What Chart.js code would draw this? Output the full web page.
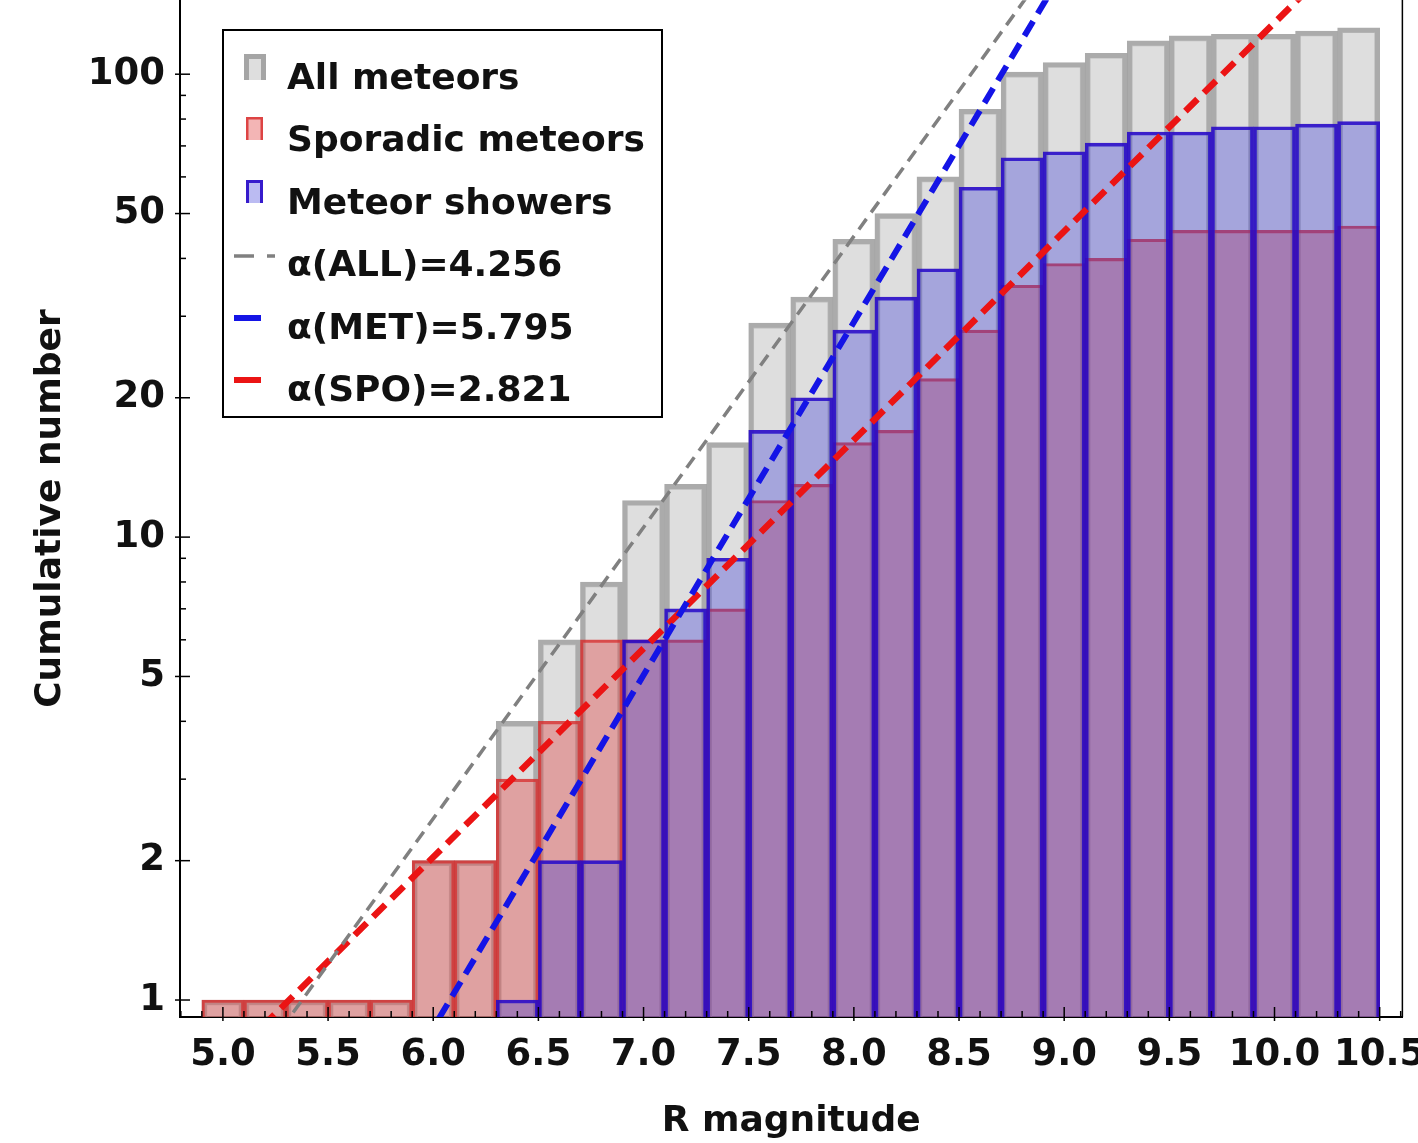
<!DOCTYPE html>
<html>
<head>
<meta charset="utf-8">
<script src="https://cdn.jsdelivr.net/npm/chart.js@4.4.0/dist/chart.umd.min.js"></script>
<style>
  html, body { margin: 0; padding: 0; background: #fff; overflow: hidden; }
  #wrap { position: absolute; left: 0; top: -37px; width: 1442px; height: 1180px; }
</style>
</head>
<body>
<div id="wrap"><canvas id="cumChart"></canvas></div>
<script>
// bin centres (R magnitude, 0.2 mag bins)
const magBins = [5.0, 5.2, 5.4, 5.6, 5.8, 6.0, 6.2, 6.4, 6.6, 6.8, 7.0, 7.2, 7.4, 7.6,
                 7.8, 8.0, 8.2, 8.4, 8.6, 8.8, 9.0, 9.2, 9.4, 9.6, 9.8, 10.0, 10.2, 10.4];
// cumulative counts
const allMeteors = [1, 1, 1, 1, 1, 2, 2, 4, 6, 8, 12, 13, 16, 29,
                    33, 44, 50, 60, 84, 101, 106, 111, 118, 121, 122, 122, 124, 126];
const sporadicMeteors = [1, 1, 1, 1, 1, 2, 2, 3, 4, 6, 6, 6, 7, 12,
                         13, 16, 17, 22, 28, 35, 39, 40, 44, 46, 46, 46, 46, 47];
const showerMeteors = [0, 0, 0, 0, 0, 0, 0, 1, 2, 2, 6, 7, 9, 17,
                       20, 28, 33, 38, 57, 66, 68, 71, 75, 75, 77, 77, 78, 79];

// fitted power laws, end points
const fitAllX = [5.1, 9.0];
const fitAllY = [0.67, 190];
const fitMetX = [5.9, 9.1];
const fitMetY = [0.73, 201];
const fitSpoX = [5.1, 10.5];
const fitSpoY = [0.80, 217];

const xTickValues = [5.0, 5.5, 6.0, 6.5, 7.0, 7.5, 8.0, 8.5, 9.0, 9.5, 10.0, 10.5];
const yTickValues = [1, 2, 5, 10, 20, 50, 100];
const legendLabels = ['All meteors', 'Sporadic meteors', 'Meteor showers',
                      'α(ALL)=4.256', 'α(MET)=5.795', 'α(SPO)=2.821'];

const FONT = 'DejaVu Sans';
Chart.defaults.font.family = FONT;
Chart.defaults.font.weight = 'bold';
Chart.defaults.color = '#111';

function toPoints(xs, ys) {
  return xs.map((x, i) => ({ x: x, y: ys[i] > 0 ? ys[i] : null }));
}

const GRAY_FILL = 'rgba(200,200,200,0.6)', GRAY_EDGE = 'rgba(150,150,150,0.8)';
const RED_FILL = 'rgba(225,70,70,0.4)', RED_EDGE = 'rgba(215,40,40,0.8)';
const BLUE_FILL = 'rgba(50,50,215,0.33)', BLUE_EDGE = 'rgba(40,10,200,0.9)';

// canvas is shifted up by 37px so the plot runs to the top edge of the page
const SHIFT = 37;

// inward ticks, right spine and the boxed legend
const framePlugin = {
  id: 'frame',
  afterDraw(chart) {
    const { ctx, chartArea: a, scales: { x, y } } = chart;
    ctx.save();
    ctx.strokeStyle = '#000';
    ctx.lineWidth = 1.5;
    ctx.beginPath();
    ctx.moveTo(a.right, 0);
    ctx.lineTo(a.right, a.bottom);
    ctx.stroke();
    ctx.lineWidth = 2;
    ctx.beginPath();
    ctx.moveTo(a.left, 0);
    ctx.lineTo(a.left, a.top + 2);
    ctx.stroke();

    ctx.lineWidth = 1.5;
    for (let i = 48; i <= 106; i++) {
      const px = x.getPixelForValue(i / 10);
      const major = i % 5 === 0;
      ctx.beginPath();
      ctx.moveTo(px, a.bottom + (major ? 4 : 0));
      ctx.lineTo(px, a.bottom - (major ? 10 : 6));
      ctx.stroke();
    }
    for (const d of [1, 10, 100]) {
      for (let k = 1; k <= 9; k++) {
        const v = k * d;
        if (v < y.min || v > y.max) continue;
        const py = y.getPixelForValue(v);
        const major = k === 1 || k === 2 || k === 5;
        ctx.beginPath();
        ctx.moveTo(a.left - (major ? 5 : 0), py);
        ctx.lineTo(a.left + (major ? 10 : 6), py);
        ctx.stroke();
      }
    }

    // legend (page coordinates + SHIFT)
    const bx = 223, by = 30 + SHIFT, bw = 439, bh = 387;
    ctx.fillStyle = '#fff';
    ctx.fillRect(bx, by, bw, bh);
    ctx.lineWidth = 2;
    ctx.strokeStyle = '#000';
    ctx.strokeRect(bx, by, bw, bh);
    const rows = [80, 142, 205, 267, 330, 392];
    ctx.font = 'bold 36px "' + FONT + '"';
    ctx.fillStyle = '#111';
    ctx.textBaseline = 'middle';
    ctx.textAlign = 'left';
    legendLabels.forEach((t, i) => ctx.fillText(t, 287, rows[i] + SHIFT));

    function barIcon(x0, y0, w, h, fill, edge, lw) {
      y0 += SHIFT;
      ctx.fillStyle = '#fff';
      ctx.fillRect(x0, y0, w, h);
      ctx.fillStyle = fill;
      ctx.fillRect(x0, y0, w, h);
      ctx.strokeStyle = edge;
      ctx.lineWidth = lw;
      ctx.beginPath();
      ctx.moveTo(x0 + lw / 2, y0 + h);
      ctx.lineTo(x0 + lw / 2, y0 + lw / 2);
      ctx.lineTo(x0 + w - lw / 2, y0 + lw / 2);
      ctx.lineTo(x0 + w - lw / 2, y0 + h);
      ctx.stroke();
    }
    barIcon(244, 54, 22, 26, GRAY_FILL, GRAY_EDGE, 5);
    barIcon(246, 117, 17, 23, RED_FILL, RED_EDGE, 2.5);
    barIcon(246, 180, 17, 23, BLUE_FILL, BLUE_EDGE, 3);

    ctx.lineCap = 'butt';
    ctx.strokeStyle = 'rgb(128,128,128)';
    ctx.lineWidth = 3.5;
    ctx.setLineDash([20, 13]);
    ctx.beginPath(); ctx.moveTo(234, 256 + SHIFT); ctx.lineTo(275, 256 + SHIFT); ctx.stroke();
    ctx.setLineDash([]);
    ctx.lineWidth = 6;
    ctx.strokeStyle = 'rgb(20,20,230)';
    ctx.beginPath(); ctx.moveTo(234, 318 + SHIFT); ctx.lineTo(261, 318 + SHIFT); ctx.stroke();
    ctx.strokeStyle = 'rgb(235,20,20)';
    ctx.beginPath(); ctx.moveTo(234, 380 + SHIFT); ctx.lineTo(261, 380 + SHIFT); ctx.stroke();
    ctx.restore();
  }
};

const ctx = document.getElementById('cumChart').getContext('2d');
new Chart(ctx, {
  type: 'bar',
  data: {
    datasets: [
      {
        label: 'All meteors',
        data: toPoints(magBins, allMeteors),
        backgroundColor: GRAY_FILL,
        borderColor: GRAY_EDGE,
        borderWidth: 5,
        borderSkipped: 'start',
        order: 3
      },
      {
        label: 'Sporadic meteors',
        data: toPoints(magBins, sporadicMeteors),
        backgroundColor: RED_FILL,
        borderColor: RED_EDGE,
        borderWidth: 2.5,
        borderSkipped: 'start',
        order: 2
      },
      {
        label: 'Meteor showers',
        data: toPoints(magBins, showerMeteors),
        backgroundColor: BLUE_FILL,
        borderColor: BLUE_EDGE,
        borderWidth: 3,
        borderSkipped: 'start',
        order: 1
      },
      {
        type: 'line',
        label: 'α(ALL)=4.256',
        data: toPoints(fitAllX, fitAllY),
        borderColor: 'rgb(128,128,128)',
        borderWidth: 3.5,
        borderDash: [13, 8],
        pointRadius: 0,
        order: 0
      },
      {
        type: 'line',
        label: 'α(MET)=5.795',
        data: toPoints(fitMetX, fitMetY),
        borderColor: 'rgb(20,20,230)',
        borderWidth: 6,
        borderDash: [17, 9],
        pointRadius: 0,
        order: 0
      },
      {
        type: 'line',
        label: 'α(SPO)=2.821',
        data: toPoints(fitSpoX, fitSpoY),
        borderColor: 'rgb(235,20,20)',
        borderWidth: 6.5,
        borderDash: [17, 9],
        pointRadius: 0,
        order: 0
      }
    ]
  },
  options: {
    responsive: true,
    maintainAspectRatio: false,
    animation: false,
    layout: { padding: { left: 0, right: 37, top: 0, bottom: 0 } },
    datasets: {
      bar: { grouped: false, barPercentage: 1, categoryPercentage: 1 }
    },
    plugins: {
      legend: { display: false },
      tooltip: { enabled: false }
    },
    scales: {
      x: {
        type: 'linear',
        offset: false,
        min: 4.796,
        max: 10.608,
        grid: { display: false, drawTicks: false, offset: false },
        border: { display: true, color: '#000', width: 2 },
        afterBuildTicks: s => { s.ticks = xTickValues.map(v => ({ value: v })); },
        afterFit: s => { s.height = 126; },
        ticks: {
          autoSkip: false,
          maxRotation: 0,
          padding: 16,
          font: { size: 37, weight: 'bold' },
          color: '#111',
          callback: v => Number(v).toFixed(1)
        },
        title: {
          display: true,
          text: 'R magnitude',
          font: { size: 36, weight: 'bold' },
          color: '#111',
          padding: { top: 0, bottom: 0 }
        }
      },
      y: {
        type: 'logarithmic',
        min: 0.919,
        max: 144.5,
        grid: { display: false, drawTicks: false },
        border: { display: true, color: '#000', width: 2 },
        afterBuildTicks: s => { s.ticks = yTickValues.map(v => ({ value: v })); },
        afterFit: s => { s.width = 180; },
        ticks: {
          autoSkip: false,
          padding: 15,
          font: { size: 37, weight: 'bold' },
          color: '#111',
          callback: v => String(v)
        },
        title: {
          display: true,
          text: 'Cumulative number',
          font: { size: 36, weight: 'bold' },
          color: '#111',
          padding: { top: 29, bottom: 0 }
        }
      }
    }
  },
  plugins: [framePlugin]
});
</script>
</body>
</html>
